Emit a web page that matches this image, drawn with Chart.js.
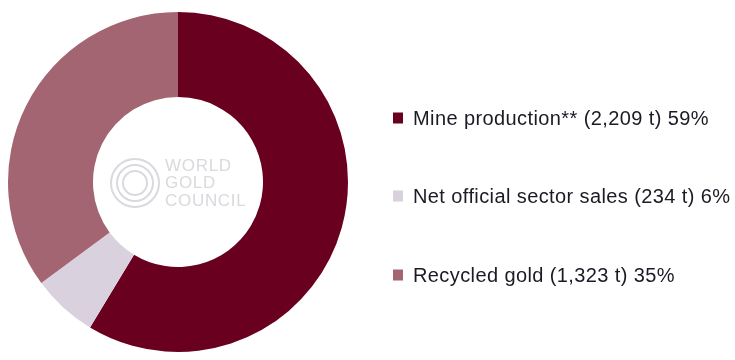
<!DOCTYPE html>
<html><head><meta charset="utf-8">
<script src="https://cdn.jsdelivr.net/npm/chart.js@4"></script>
<style>html,body{margin:0;padding:0;background:#fff;}canvas{display:block;}</style>
</head><body>
<canvas id="c" width="735" height="360"></canvas>
<script>
const categories = ["Mine production**", "Net official sector sales", "Recycled gold"];
const tonnes = [2209, 234, 1323];
const tonneLabels = ["2,209 t", "234 t", "1,323 t"];
const pctLabels = ["59%", "6%", "35%"];
const colors = ["#6a001f", "#d9d1de", "#a36571"];
const logoLines = ["WORLD", "GOLD", "COUNCIL"];

const sideLegend = {
  id: 'sideLegend',
  afterDraw(chart) {
    const ctx = chart.ctx;
    const baselines = [125, 203, 282];
    const boxMid = [118, 196, 275];
    ctx.save();
    ctx.font = '20px "Liberation Sans", Arial, sans-serif';
    ctx.letterSpacing = '0.4px';
    ctx.textBaseline = 'alphabetic';
    categories.forEach((c, i) => {
      ctx.fillStyle = colors[i];
      ctx.fillRect(393, boxMid[i] - 5.5, 10, 11);
      ctx.fillStyle = '#1c1a24';
      ctx.fillText(c + ' (' + tonneLabels[i] + ') ' + pctLabels[i], 413, baselines[i]);
    });
    // center logo
    const meta = chart.getDatasetMeta(0).data[0];
    const cx = meta.x, cy = meta.y;
    ctx.strokeStyle = '#d9d9de';
    ctx.lineWidth = 2;
    [24, 18, 12].forEach(r => { ctx.beginPath(); ctx.arc(cx - 43, cy + 1, r, 0, Math.PI * 2); ctx.stroke(); });
    ctx.fillStyle = '#d9d9de';
    ctx.font = '17px "Liberation Sans", Arial, sans-serif';
    ctx.letterSpacing = '0.7px';
    logoLines.forEach((t, i) => ctx.fillText(t, cx - 13, cy - 11 + i * 17.3));
    ctx.restore();
  }
};

new Chart(document.getElementById('c'), {
  type: 'doughnut',
  data: {
    labels: categories,
    datasets: [{ data: tonnes, backgroundColor: colors, borderWidth: 0 }]
  },
  options: {
    responsive: false,
    animation: false,
    cutout: '50%',
    layout: { padding: { left: 8, top: 12, bottom: 8, right: 387 } },
    plugins: { legend: { display: false }, tooltip: { enabled: false } }
  },
  plugins: [sideLegend]
});
</script>
</body></html>
